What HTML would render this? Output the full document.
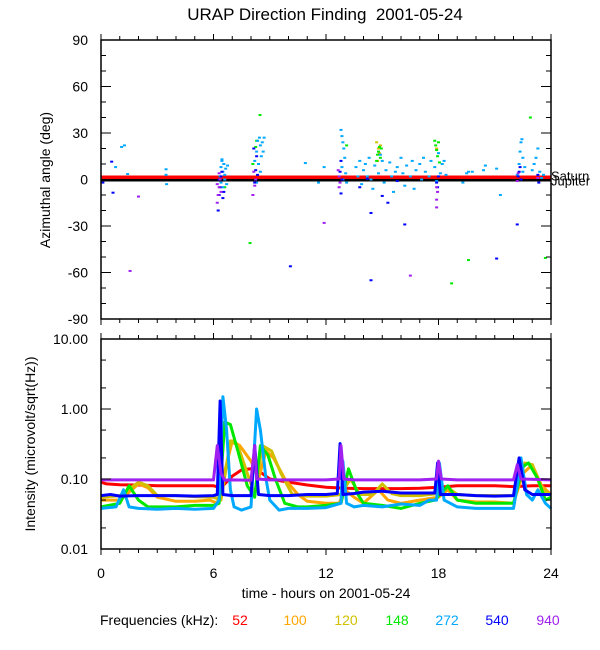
<!DOCTYPE html>
<html><head><meta charset="utf-8"><style>
body{margin:0;background:#fff;}
svg{display:block;font-family:"Liberation Sans",sans-serif;}
</style></head><body>
<svg id="chart" width="600" height="650" viewBox="0 0 600 650">
<text x="325" y="20" font-size="17" text-anchor="middle" style="white-space:pre">URAP Direction Finding  2001-05-24</text>
<g id="topPanel"></g>
<g id="botPanel"></g>
<text transform="translate(50,180) rotate(-90)" font-size="14" text-anchor="middle">Azimuthal angle (deg)</text>
<text transform="translate(35,444) rotate(-90)" font-size="14" text-anchor="middle">Intensity (microvolt/sqrt(Hz))</text>
<text x="326" y="598" font-size="14" text-anchor="middle">time - hours on 2001-05-24</text>
<g id="legendG"></g>
</svg>
<script>
const freqLabels=["52","100","120","148","272","540","940"];
const colors=["#ff0000","#ffa500","#d0c000","#00e800","#00a8ff","#0000ff","#a020f0"];
const xTicks=[0,6,12,18,24];
const azTicks=[90,60,30,0,-30,-60,-90];
const intTicks=[10,1,0.1,0.01];
const intTickLabels=["10.00","1.00","0.10","0.01"];

const t52=[0,0.3,1,2,3,4,5,6,6.4,7,7.5,8,8.5,9,10,11,12,13,14,15,16,17,18,19,20,21,22,23,24];
const v52=[0.09,0.085,0.083,0.082,0.08,0.08,0.08,0.08,0.075,0.11,0.135,0.14,0.125,0.1,0.09,0.082,0.076,0.074,0.073,0.073,0.073,0.074,0.076,0.08,0.08,0.08,0.078,0.08,0.08];
const t100=[0,1,1.5,2,2.5,3,4,5,5.8,6.2,6.5,7,7.4,8,8.4,8.8,9.2,9.8,10.5,11,12,12.7,13,13.5,14,14.8,15.3,16,17,18,18.5,19,20,21,22,22.5,23,23.5,24];
const v100=[0.05,0.05,0.065,0.085,0.075,0.055,0.048,0.048,0.05,0.045,0.1,0.35,0.3,0.18,0.1,0.25,0.2,0.1,0.06,0.048,0.045,0.045,0.07,0.055,0.045,0.07,0.05,0.045,0.05,0.055,0.07,0.05,0.047,0.047,0.045,0.12,0.16,0.08,0.06];
const t120=[0,1,1.6,2,2.5,3,4,5,6,6.4,6.9,7.3,7.8,8.2,8.6,9.1,9.6,10.2,11,12,12.8,13.3,13.8,14.5,15,15.5,16,17,18,18.5,19,20,21,22,22.6,23,23.5,24];
const v120=[0.055,0.058,0.075,0.09,0.08,0.058,0.058,0.056,0.055,0.05,0.35,0.3,0.12,0.06,0.3,0.25,0.12,0.06,0.057,0.057,0.06,0.1,0.06,0.06,0.085,0.062,0.058,0.058,0.062,0.075,0.06,0.058,0.058,0.058,0.17,0.16,0.07,0.06];
const t148=[0,1,1.5,2,2.5,3,4,5,6,6.3,6.6,6.9,7.3,7.8,8.2,8.5,8.9,9.3,9.8,10.5,11,12,12.8,13.2,13.7,14,15,16,17,17.8,18.5,19,20,21,22,22.5,22.8,23.3,23.7,24];
const v148=[0.04,0.045,0.08,0.05,0.04,0.04,0.04,0.042,0.042,0.045,0.65,0.6,0.25,0.08,0.055,0.3,0.22,0.1,0.045,0.04,0.04,0.042,0.045,0.14,0.06,0.045,0.042,0.038,0.045,0.05,0.08,0.05,0.045,0.045,0.045,0.15,0.17,0.1,0.05,0.055];
const t272=[0,0.8,1.2,1.5,2,3,4,5,6,6.3,6.5,6.7,6.9,7.1,7.5,8,8.3,8.5,8.8,9,9.5,10,11,12,12.8,12.9,13.1,13.5,14,15,16,17,17.5,17.9,18.05,18.3,19,20,21,22,22.2,22.4,22.7,23,23.3,23.7,24];
const v272=[0.038,0.04,0.07,0.04,0.038,0.037,0.038,0.037,0.038,0.05,1.5,0.5,0.07,0.04,0.036,0.04,1.0,0.5,0.1,0.05,0.036,0.038,0.038,0.039,0.045,0.18,0.045,0.04,0.042,0.04,0.044,0.042,0.05,0.05,0.17,0.05,0.04,0.038,0.038,0.038,0.08,0.2,0.06,0.05,0.07,0.045,0.038];
const t540=[0,0.5,1,2,3,4,5,6,6.2,6.35,6.5,7,8,8.2,8.4,9,10,11,12,12.6,12.75,12.9,13.5,14,15,16,17,17.8,17.95,18.1,19,20,21,22,22.3,22.6,23,24];
const v540=[0.058,0.06,0.057,0.058,0.058,0.058,0.057,0.058,0.06,1.3,0.06,0.058,0.058,0.3,0.06,0.058,0.058,0.06,0.06,0.062,0.32,0.06,0.062,0.065,0.067,0.063,0.063,0.063,0.17,0.06,0.06,0.058,0.057,0.058,0.2,0.07,0.06,0.06];
const t940=[0,1,2,3,4,5,6,6.2,6.4,6.6,7,8,8.2,8.3,9,10,11,12,12.7,12.8,12.95,13.5,15,17,17.9,18,18.15,19,20,21,22,22.2,22.4,24];
const v940=[0.097,0.097,0.097,0.097,0.097,0.097,0.097,0.3,0.12,0.096,0.097,0.096,0.3,0.1,0.097,0.097,0.097,0.097,0.1,0.3,0.1,0.097,0.097,0.097,0.1,0.18,0.1,0.097,0.097,0.097,0.097,0.16,0.1,0.097];

const az272=[[0.78,8],[1.1,21],[1.25,22],[1.42,3.5],[3.47,6.6],[3.47,3],[3.5,-3],[6.35,2],[6.4,8],[6.45,12],[6.5,5],[6.55,10],[6.6,0],[6.65,7],[6.7,-3],[6.5,-5],[6.45,13],[6.6,3],[6.75,9],[6.4,-2],[8.2,12],[8.3,18],[8.35,25],[8.45,27],[8.5,22],[8.55,15],[8.6,24],[8.4,10],[8.5,5],[8.65,18],[8.7,27],[8.3,-2],[10.9,10.6],[11.6,-2],[11.9,8],[12.8,32],[12.85,28],[12.9,24],[12.95,20],[13,14],[12.85,8],[13.05,4],[12.9,0],[13.1,-2],[13.6,8],[13.7,2],[13.8,12],[13.9,-3],[14,6],[14.1,10],[14.2,2],[14.3,14],[14.4,0],[14.5,-6],[14.6,9],[14.8,4],[14.9,16],[15,12],[15.1,-2],[15.2,6],[15.4,11],[15.5,2],[15.6,-8],[15.7,5],[15.8,8],[16,14],[16.1,4],[16.2,-4],[16.3,9],[16.5,2],[16.6,12],[16.7,-6],[16.8,6],[17,10],[17.1,0],[17.2,14],[17.3,5],[17.5,2],[17.6,12],[17.8,8],[17.9,-1],[18,17],[18.1,4],[18.2,10],[18.3,12],[18.4,3],[19.3,-2],[19.5,4],[19.6,5],[19.8,5],[20.4,6],[20.5,9],[21.1,7],[21.3,-10],[22.2,3],[22.3,10],[22.35,18],[22.4,24],[22.45,26],[22.5,14],[22.6,8],[22.5,5],[23.1,10],[23.2,14],[23.3,20],[23,6],[23.4,5],[23.5,1],[23.6,3]];
const az540=[[0.1,-2],[0.57,11.5],[0.64,-8.5],[6.25,-20],[6.3,-10],[6.35,-5],[6.4,2],[6.45,5],[6.3,0],[6.55,-8],[6.5,-12],[8.2,-2],[8.25,6],[8.3,15],[8.15,20],[8.35,3],[10.1,-56],[12.8,-9],[12.75,5],[12.8,12],[12.85,0],[14.4,-21.6],[14.4,-65],[15,-10.6],[15.3,-15],[16.2,-29],[17.9,-2],[17.95,-5],[18,2],[22.2,-29],[21.1,-51],[22.25,2],[22.3,5],[22.35,8],[22.4,0],[23.3,3],[23.35,-2],[13.8,-5],[14.2,0.5],[15.8,-1]];
const az940=[[2,-11],[1.55,-59],[6.2,-15],[6.25,-10],[6.3,-5],[6.35,0],[6.3,4],[6.4,-8],[6.2,-3],[8.1,-10],[8.2,-4],[8.25,0],[8.15,5],[11.9,-28],[12.7,-5],[12.75,-2],[12.7,2],[12.65,6],[16.5,-62],[17.9,-13],[17.9,-18],[17.95,-8],[17.9,-5],[22.2,-1],[22.25,4],[23.3,1]];
const az148=[[7.95,-41],[8.48,41.6],[8.1,10],[8.25,21],[8.3,25],[14.7,12],[14.75,16],[14.8,18],[14.85,21],[14.9,14],[14.95,20],[17.8,25],[17.85,22],[17.9,19],[17.95,15],[18,24],[18.05,11],[22.9,40],[23.7,-50.6],[19.6,-52],[18.7,-67],[6.6,-5],[13.1,22]];
const az120=[[14.7,24],[14.8,20],[14.75,12],[14.85,17],[14.9,22],[17.9,20]];

const NS="http://www.w3.org/2000/svg";
const X0=101,X1=551,TY0=40,TY1=319,BY0=339,BY1=549;
function xs(h){return X0+h*(X1-X0)/24;}
function ya(d){return (TY0+TY1)/2-d*(TY1-TY0)/180;}
function yi(v){return BY1-(Math.log10(v)+2)*(BY1-BY0)/3;}
function mk(tag,attrs,parent){const e=document.createElementNS(NS,tag);for(const k in attrs)e.setAttribute(k,attrs[k]);parent.appendChild(e);return e;}
const topG=document.getElementById('topPanel'),botG=document.getElementById('botPanel'),legG=document.getElementById('legendG');

let l=mk('rect',{x:X0,y:ya(0)-4,width:X1-X0,height:4,fill:'#ff0000'},topG);


l=mk('rect',{x:X0,y:ya(0)-0.5,width:X1-X0,height:2.5,fill:'#000'},topG);


let tt=mk('text',{x:551,y:ya(0)+1,'font-size':13},topG);tt.textContent='Saturn';


tt=mk('text',{x:551,y:ya(0)+6,'font-size':13},topG);tt.textContent='Jupiter';



const azSets=[[az120,2],[az148,3],[az272,4],[az540,5],[az940,6]];
for(const [set,ci] of azSets){for(const p of set){
  const r=mk('rect',{x:xs(p[0])-1.5,y:ya(p[1])-1,width:3,height:2,fill:colors[ci]},topG);
  
  
}}

const series=[[t52,v52],[t100,v100],[t120,v120],[t148,v148],[t272,v272],[t540,v540],[t940,v940]];
series.forEach((s,i)=>{
  const pts=s[0].map((h,k)=>xs(h).toFixed(1)+','+yi(s[1][k]).toFixed(1)).join(' ');
  const pl=mk('polyline',{points:pts,fill:'none',stroke:colors[i],'stroke-width':3,'stroke-linejoin':'round'},botG);
  
  
});

for(const [y0,y1,nm] of [[TY0,TY1,'azimuth-frame'],[BY0,BY1,'intensity-frame']]){
  const g=nm=='azimuth-frame'?topG:botG;
  const b=mk('rect',{x:X0,y:y0,width:X1-X0,height:y1-y0,fill:'none',stroke:'#000','stroke-width':1.5},g);
  
  
  for(let h=0;h<=24;h++){
    const len=h%6==0?6:4;
    mk('line',{x1:xs(h),x2:xs(h),y1:y0,y2:y0-len,stroke:'#000'},g);
    mk('line',{x1:xs(h),x2:xs(h),y1:y1,y2:y1+len,stroke:'#000'},g);
  }
}
for(let d=-90;d<=90;d+=10){
  const len=d%30==0?10:5;
  mk('line',{x1:X0,x2:X0+len,y1:ya(d),y2:ya(d),stroke:'#000'},topG);
  mk('line',{x1:X1,x2:X1-len,y1:ya(d),y2:ya(d),stroke:'#000'},topG);
}
azTicks.forEach(d=>{
  const tx=mk('text',{x:88,y:ya(d)+5,'font-size':14,'text-anchor':'end'},topG);tx.textContent=String(d);
  
  
});
for(let e=-2;e<1;e++){for(const m of [1,2,5]){const v=m*Math.pow(10,e);const len=m==1?10:5;
  mk('line',{x1:X0,x2:X0+len,y1:yi(v),y2:yi(v),stroke:'#000'},botG);
  mk('line',{x1:X1,x2:X1-len,y1:yi(v),y2:yi(v),stroke:'#000'},botG);}}
intTicks.forEach((v,i)=>{
  const tx=mk('text',{x:88,y:yi(v)+5,'font-size':14,'text-anchor':'end'},botG);tx.textContent=intTickLabels[i];
  
  
});
xTicks.forEach(h=>{
  const tx=mk('text',{x:xs(h),y:578,'font-size':14,'text-anchor':'middle'},botG);tx.textContent=String(h);
  
  
});
let lt=mk('text',{x:100,y:625,'font-size':14},legG);lt.textContent='Frequencies (kHz):';


const legX=[240,295,346,397,447,497,548];
freqLabels.forEach((f,i)=>{
  const e=mk('text',{x:legX[i],y:625,'font-size':14,'text-anchor':'middle',fill:colors[i]},legG);e.textContent=f;
  
  
});
</script>
</body></html>
